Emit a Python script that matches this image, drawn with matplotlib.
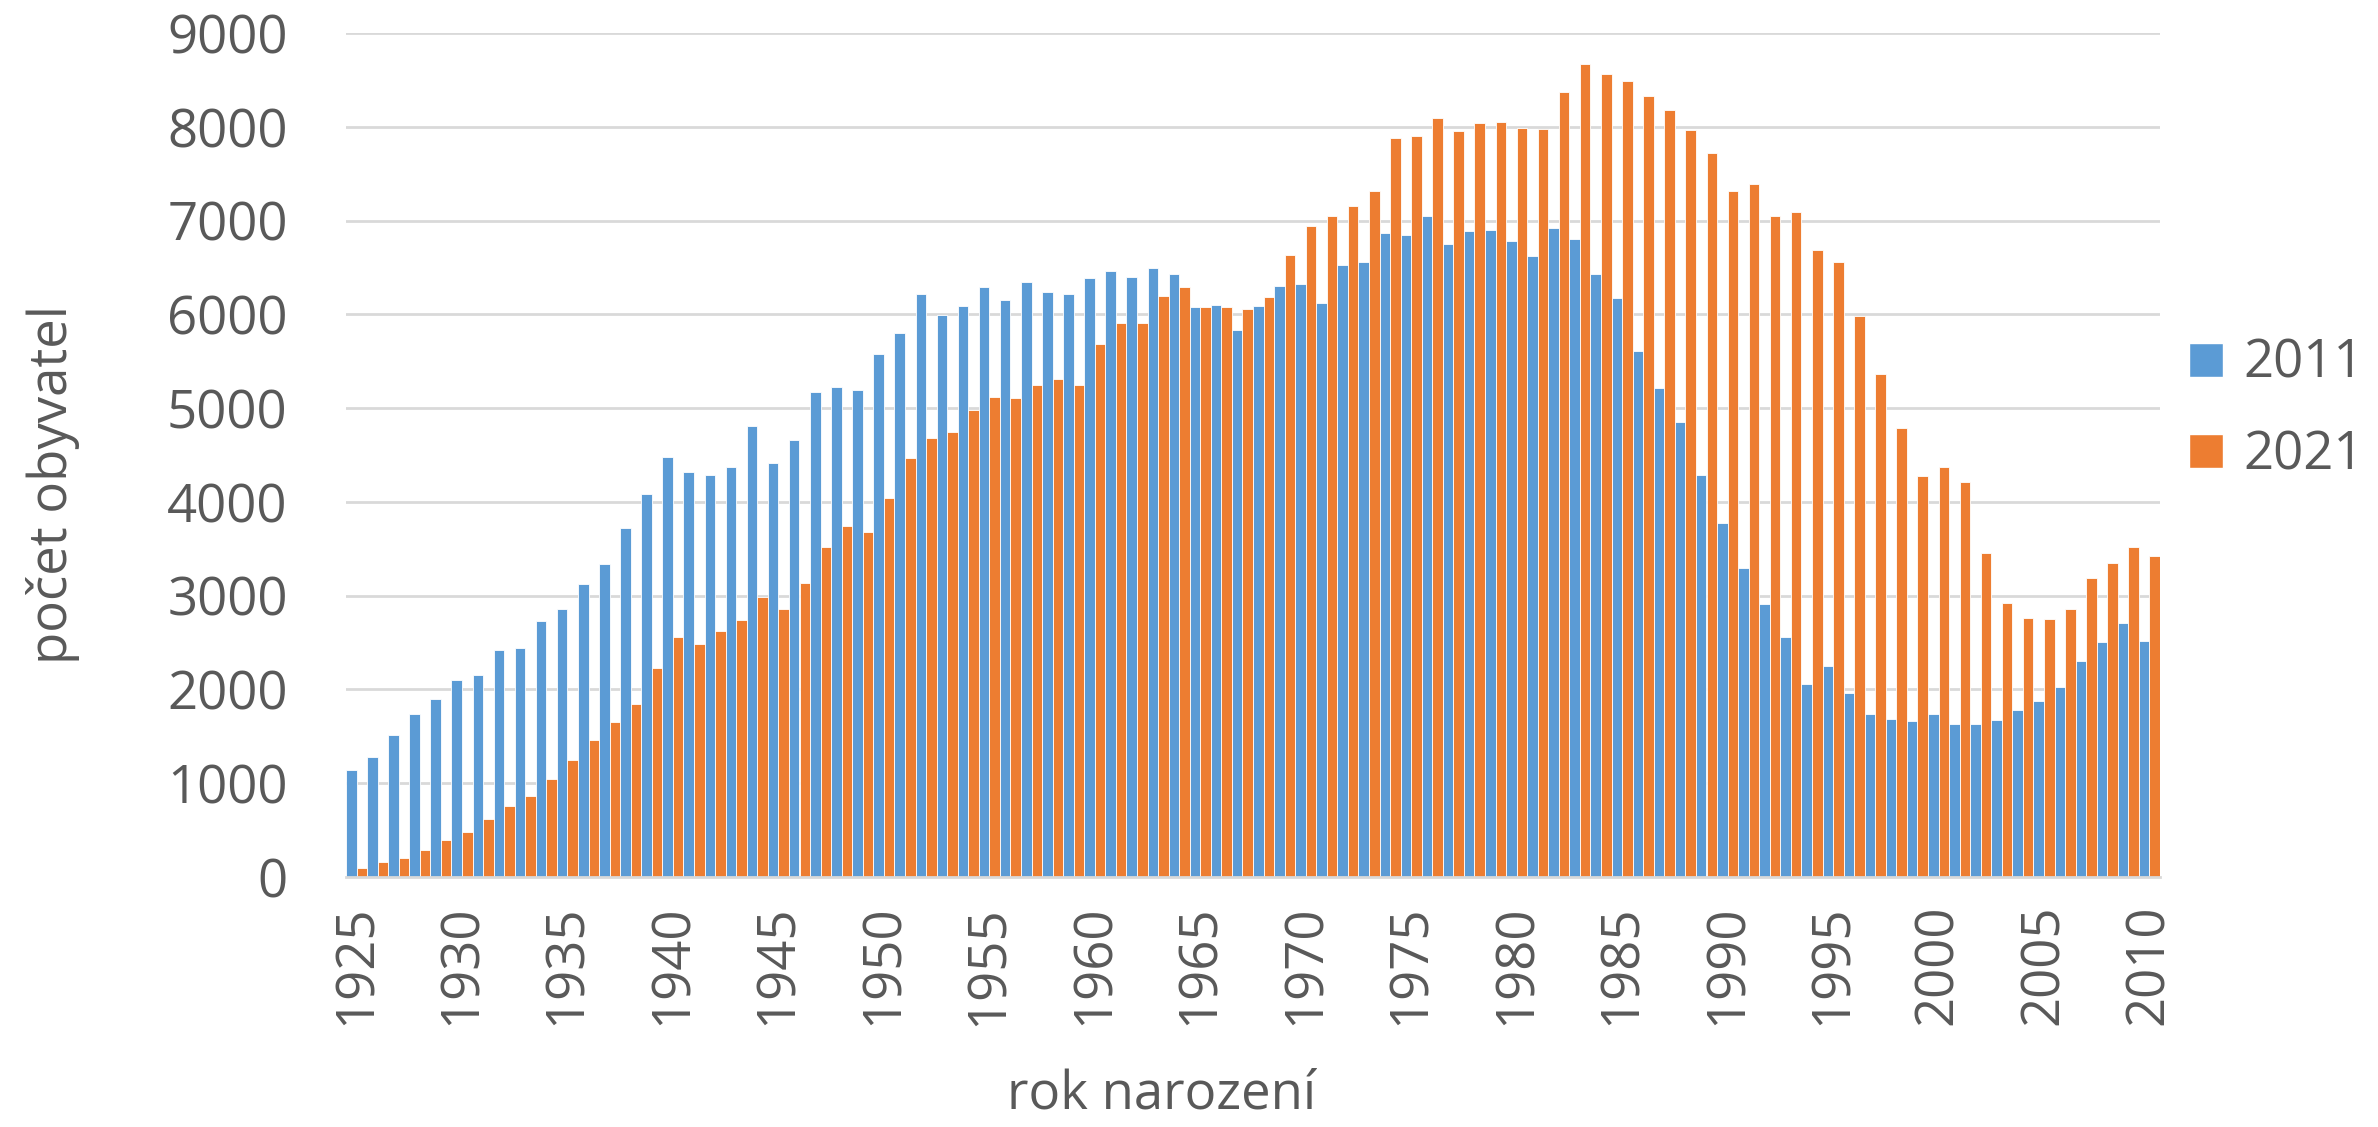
import numpy as np
import matplotlib
matplotlib.use("Agg")
import matplotlib.pyplot as plt
from matplotlib.lines import Line2D

plt.rcParams['font.family'] = ['Open Sans', 'DejaVu Sans']

years = list(range(1925, 2011))

pop_2011 = [1140, 1276, 1514, 1734, 1893, 2100, 2149, 2418, 2442, 2729,
            2863, 3120, 3333, 3718, 4084, 4481, 4322, 4286, 4371, 4811,
            4420, 4664, 5171, 5226, 5189, 5574, 5806, 6221, 5995, 6087,
            6294, 6154, 6343, 6239, 6215, 6386, 6465, 6398, 6496, 6435,
            6074, 6099, 5830, 6087, 6306, 6319, 6117, 6526, 6563, 6868,
            6844, 7051, 6752, 6893, 6899, 6783, 6624, 6923, 6807, 6435,
            6178, 5610, 5214, 4847, 4286, 3779, 3297, 2906, 2558, 2057,
            2247, 1960, 1734, 1685, 1661, 1734, 1630, 1636, 1679, 1777,
            1874, 2027, 2308, 2509, 2711, 2521]

pop_2021 = [98, 159, 201, 293, 391, 482, 617, 757, 861, 1050,
            1245, 1465, 1654, 1844, 2228, 2558, 2485, 2625, 2741, 2991,
            2863, 3132, 3516, 3748, 3675, 4042, 4463, 4683, 4744, 4975,
            5116, 5110, 5250, 5311, 5250, 5684, 5910, 5904, 6197, 6294,
            6074, 6074, 6062, 6190, 6630, 6941, 7045, 7155, 7320, 7882,
            7900, 8095, 7955, 8040, 8053, 7985, 7979, 8376, 8669, 8565,
            8492, 8327, 8175, 7961, 7723, 7320, 7393, 7051, 7094, 6691,
            6557, 5983, 5366, 4786, 4274, 4371, 4212, 3455, 2924, 2759,
            2753, 2863, 3187, 3352, 3523, 3425]

tick_years = list(range(1925, 2011, 5))
yticks = list(range(0, 9001, 1000))

blue = '#5B9BD5'
orange = '#ED7D31'
txt = '#595959'
fs = 38

fig = plt.figure(figsize=(23.78, 11.27), dpi=100)
ax = fig.add_axes([346 / 2378, 1 - 877 / 1127, (2160 - 346) / 2378, (877 - 33) / 1127])

x = np.array(years)
w = 0.5
ax.bar(x - w / 2, pop_2011, width=w, color=blue, edgecolor='white', linewidth=0.6, label='2011', zorder=2)
ax.bar(x + w / 2, pop_2021, width=w, color=orange, edgecolor='white', linewidth=0.6, label='2021', zorder=2)

ax.set_xlim(1924.5, 2010.5)
ax.set_ylim(0, 9000)
ax.set_yticks(yticks)
ax.set_xticks(tick_years)
ax.set_xticklabels([str(y) for y in tick_years], rotation=90)
ax.tick_params(axis='y', length=0, pad=42, labelsize=fs, labelcolor=txt)
ax.tick_params(axis='x', length=0, pad=20, labelsize=fs, labelcolor=txt)
ax.grid(axis='y', color='#D9D9D9', linewidth=2, zorder=0)
ax.set_axisbelow(True)
for s in ['top', 'right', 'left']:
    ax.spines[s].set_visible(False)
ax.spines['bottom'].set_color('#D9D9D9')
ax.spines['bottom'].set_linewidth(2)

fig.text(53 / 2378, 1 - 484 / 1127, 'počet obyvatel', rotation=90, ha='center', va='center',
         fontsize=fs, color=txt)
fig.text(1162 / 2378, 1 - 1095 / 1127, 'rok narození', ha='center', va='center',
         fontsize=fs, color=txt)

handles = [Line2D([], [], marker='s', linestyle='none', markersize=24, color=blue, markeredgecolor='white'),
           Line2D([], [], marker='s', linestyle='none', markersize=24, color=orange, markeredgecolor='white')]
fig.legend(handles, ['2011', '2021'], loc='center left', bbox_to_anchor=(2185 / 2378, 1 - 410 / 1127),
           frameon=False, fontsize=fs, labelcolor=txt, handlelength=0.8, handletextpad=0.3,
           labelspacing=0.72, borderpad=0, borderaxespad=0)

fig.savefig('out.png', dpi=100)
